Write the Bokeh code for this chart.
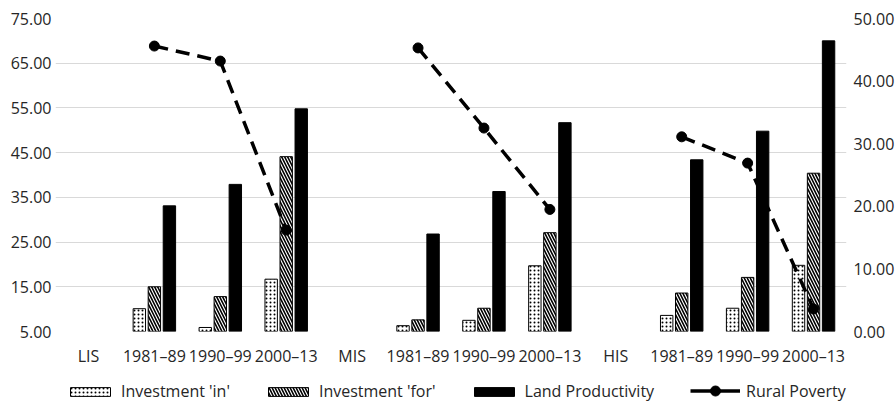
import math
from bokeh.plotting import figure
from bokeh.layouts import column
from bokeh.models import (Range1d, LinearAxis, FixedTicker, NumeralTickFormatter,
                          Legend, LegendItem, ColumnDataSource)
from bokeh.embed import file_html
from bokeh.resources import INLINE

nan = float("nan")

categories = ["LIS", "1981\u201389", "1990\u201399", "2000\u201313",
              "MIS", "1981\u201389", "1990\u201399", "2000\u201313",
              "HIS", "1981\u201389", "1990\u201399", "2000\u201313"]
invest_in = [nan, 10.1, 5.9, 16.7, nan, 6.3, 7.5, 19.7, nan, 8.6, 10.2, 19.8]
invest_for = [nan, 15.0, 12.8, 44.1, nan, 7.6, 10.2, 27.1, nan, 13.6, 17.1, 40.4]
land_prod = [nan, 33.1, 37.9, 54.8, nan, 26.8, 36.3, 51.7, nan, 43.4, 49.8, 70.0]
rural_poverty = [nan, 45.6, 43.2, 16.2, nan, 45.3, 32.5, 19.5, nan, 31.1, 26.9, 3.6]
series_names = ["Investment 'in'", "Investment 'for'", "Land Productivity", "Rural Poverty"]

left_ticks = [5, 15, 25, 35, 45, 55, 65, 75]
right_ticks = [0, 10, 20, 30, 40, 50]

FONT = "Open Sans"
TXT = "#262626"

xc = [i + 0.5 for i in range(len(categories))]
off = 0.228
bw = 0.188

STYLE_IN = dict(fill_color="white", line_color="black", line_width=1,
                hatch_pattern="dot", hatch_color="black", hatch_scale=4,
                hatch_weight=1.2)
STYLE_FOR = dict(fill_color="white", line_color="black", line_width=1,
                 hatch_pattern="left_diagonal_line", hatch_color="black",
                 hatch_scale=6, hatch_weight=1.6)
STYLE_LAND = dict(fill_color="black", line_color="black")
STYLE_LINE = dict(line_color="black", line_width=3.5, line_dash="14 8")
STYLE_PTS = dict(size=10, marker="circle", fill_color="black", line_color="black")


def bar_source(vals, shift):
    xs = [x + shift for x, v in zip(xc, vals) if not math.isnan(v)]
    ys = [v for v in vals if not math.isnan(v)]
    return ColumnDataSource(dict(x=xs, top=ys))


pts = [(x, v) for x, v in zip(xc, rural_poverty) if not math.isnan(v)]
pts_src = dict(x=[a for a, b in pts], y=[b for a, b in pts])

p = figure(frame_width=791, frame_height=313, x_range=Range1d(0, len(categories)),
           y_range=Range1d(left_ticks[0], left_ticks[-1]),
           output_backend="svg", toolbar_location=None,
           min_border_left=55, min_border_right=50, min_border_top=18,
           min_border_bottom=41)
p.outline_line_color = None
p.background_fill_color = "white"
p.border_fill_color = "white"
p.xgrid.visible = False
p.ygrid.grid_line_color = "#d9d9d9"
p.ygrid.grid_line_width = 1

p.extra_y_ranges = {"right": Range1d(right_ticks[0], right_ticks[-1])}

p.vbar(x="x", top="top", bottom=left_ticks[0], width=bw,
       source=bar_source(invest_in, -off), **STYLE_IN)
p.vbar(x="x", top="top", bottom=left_ticks[0], width=bw,
       source=bar_source(invest_for, 0), **STYLE_FOR)
p.vbar(x="x", top="top", bottom=left_ticks[0], width=bw,
       source=bar_source(land_prod, off), **STYLE_LAND)

p.line(x=xc, y=rural_poverty, y_range_name="right", **STYLE_LINE)
p.scatter(x="x", y="y", source=ColumnDataSource(pts_src),
          y_range_name="right", **STYLE_PTS)

# axes
p.yaxis.ticker = FixedTicker(ticks=left_ticks)
p.yaxis.formatter = NumeralTickFormatter(format="0.00")
right_axis = LinearAxis(y_range_name="right", ticker=FixedTicker(ticks=right_ticks),
                        formatter=NumeralTickFormatter(format="0.00"))
p.add_layout(right_axis, "right")

p.xaxis.ticker = FixedTicker(ticks=xc)
p.xaxis.major_label_overrides = {x: c for x, c in zip(xc, categories)}

for ax in [p.xaxis[0], p.yaxis[0], right_axis]:
    ax.axis_line_color = None
    ax.major_tick_line_color = None
    ax.minor_tick_line_color = None
    ax.major_tick_out = 0
    ax.major_tick_in = 0
    ax.minor_tick_out = 0
    ax.major_label_text_font = FONT
    ax.major_label_text_font_size = "16px"
    ax.major_label_text_color = TXT
p.yaxis[0].major_label_standoff = 4
right_axis.major_label_standoff = 7
p.xaxis[0].major_label_standoff = 13

# legend strip below the chart; the same series are drawn there outside the
# visible window, only so that the legend has glyphs to show
pl = figure(frame_width=896, frame_height=31, x_range=Range1d(0, len(categories)),
            y_range=Range1d(1000, 1001), x_axis_type=None, y_axis_type=None,
            output_backend="svg", toolbar_location=None, min_border=0)
pl.outline_line_color = None
pl.grid.visible = False
pl.background_fill_color = "white"
pl.border_fill_color = "white"
l_in = pl.vbar(x="x", top="top", bottom=left_ticks[0], width=bw,
               source=bar_source(invest_in, -off), **STYLE_IN)
l_for = pl.vbar(x="x", top="top", bottom=left_ticks[0], width=bw,
                source=bar_source(invest_for, 0), **STYLE_FOR)
l_land = pl.vbar(x="x", top="top", bottom=left_ticks[0], width=bw,
                 source=bar_source(land_prod, off), **STYLE_LAND)
l_line = pl.line(x="x", y="y", source=ColumnDataSource(pts_src),
                 line_color="black", line_width=3.5)
l_pts = pl.scatter(x="x", y="y", source=ColumnDataSource(pts_src), **STYLE_PTS)


def style_legend(lg, gh):
    lg.orientation = "horizontal"
    lg.glyph_width = 50
    lg.glyph_height = gh
    lg.label_standoff = 6
    lg.spacing = 33
    lg.padding = 0
    lg.margin = 0
    lg.border_line_color = None
    lg.background_fill_alpha = 0
    lg.label_text_font = FONT
    lg.label_text_font_size = "16px"
    lg.label_text_color = TXT


legend_bars = Legend(items=[
    LegendItem(label=series_names[0], renderers=[l_in]),
    LegendItem(label=series_names[1], renderers=[l_for]),
    LegendItem(label=series_names[2], renderers=[l_land]),
], location=(65, 1))
style_legend(legend_bars, 11)
pl.add_layout(legend_bars, "center")

legend_line = Legend(items=[
    LegendItem(label=series_names[3], renderers=[l_line, l_pts]),
], location=(690, 0))
style_legend(legend_line, 25)
pl.add_layout(legend_line, "center")

layout = column(p, pl, spacing=0)
open("out.html", "w").write(file_html(layout, INLINE))
